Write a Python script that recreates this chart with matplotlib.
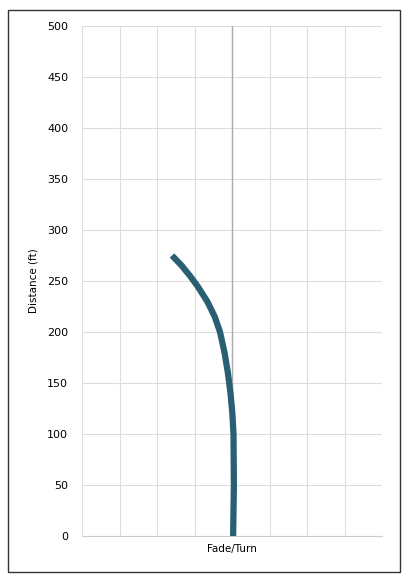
import matplotlib.pyplot as plt
from matplotlib.patches import Rectangle

# flight path: distance (ft) vs fade/turn offset
distance = [0, 50, 100, 120, 140, 160, 180, 200, 215, 230, 245, 255, 265, 275]
offset = [0.3, 0.5, 0.4, 0.1, -0.4, -1.1, -2.0, -3.2, -4.6, -6.6, -9.2, -11.2, -13.4, -16.0]
y_ticks = list(range(0, 501, 50))
x_ticks = list(range(-40, 41, 10))

fig = plt.figure(figsize=(4.08, 5.82), dpi=100)
fig.patches.append(Rectangle((8 / 408, 10 / 582), 392 / 408, 562 / 582,
                             transform=fig.transFigure, fill=False,
                             edgecolor='#333333', linewidth=1))
ax = fig.add_axes([82 / 408, 46 / 582, 300 / 408, 510 / 582])

ax.axvline(0, color='#aaaaaa', linewidth=1, zorder=2)
ax.plot(offset, distance, color='#2a5e72', linewidth=4.5,
        solid_capstyle='butt', solid_joinstyle='round', zorder=3)

ax.set_xlim(-40, 40)
ax.set_ylim(0, 500)
ax.set_yticks(y_ticks)
ax.set_xticks(x_ticks)
ax.set_xticklabels([])
ax.tick_params(axis='x', length=0)
ax.tick_params(axis='y', length=0, labelsize=8, pad=10)
ax.grid(True, color='#dddddd', linewidth=0.8)
for s in ['top', 'right', 'left']:
    ax.spines[s].set_visible(False)
ax.spines['bottom'].set_color('#cccccc')
ax.set_xlabel("Fade/Turn", fontsize=7.5, labelpad=2)
ax.set_ylabel("Distance (ft)", fontsize=7.5, labelpad=6)

fig.savefig('out.png', dpi=100)
